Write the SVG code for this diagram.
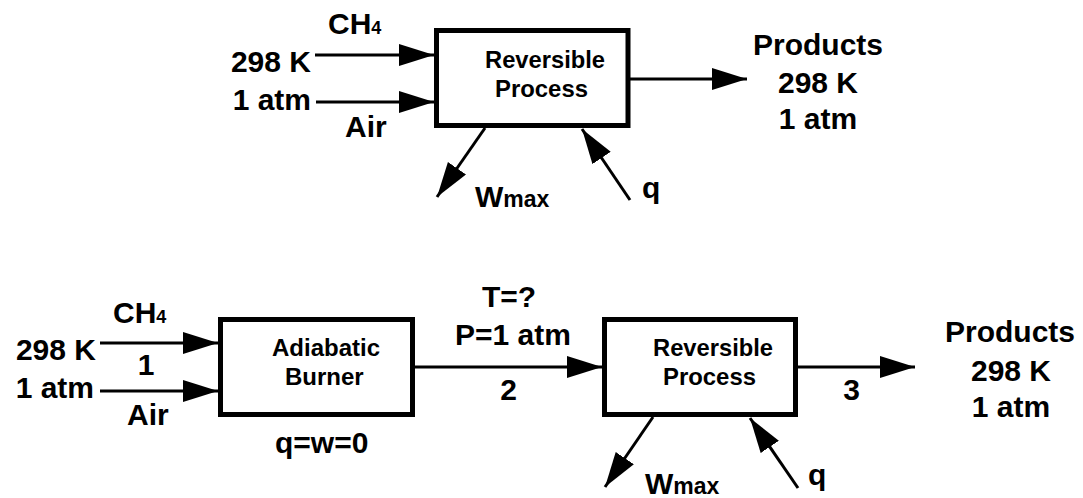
<svg xmlns="http://www.w3.org/2000/svg" width="1083" height="498" viewBox="0 0 1083 498">
<style>
text{font-family:"Liberation Sans",Arial,sans-serif;font-weight:bold;fill:#000}
.big{font-size:30px}
.box{font-size:24px}
.sub{font-size:18px}
.subw{font-size:23px}
.mid{text-anchor:middle}
.end{text-anchor:end}
.node rect{fill:#fff;stroke:#000;stroke-width:5}
.conn line{stroke:#000;stroke-width:3;marker-end:url(#ah)}
</style>
<defs>
<marker id="ah" markerUnits="userSpaceOnUse" markerWidth="36" markerHeight="24" refX="35" refY="11" orient="auto">
<path d="M0,0 L35,11 L0,22 z" fill="#000"/>
</marker>
</defs>
<g id="connectors" class="conn">
<line x1="315" y1="55" x2="434" y2="55"/>
<line x1="316" y1="102" x2="434" y2="102"/>
<line x1="630" y1="79" x2="747" y2="79"/>
<line x1="485" y1="128" x2="437" y2="197"/>
<line x1="630" y1="200" x2="582" y2="129"/>
<line x1="100" y1="343" x2="218" y2="343"/>
<line x1="100" y1="391" x2="218" y2="391"/>
<line x1="415" y1="367" x2="602" y2="367"/>
<line x1="798" y1="367" x2="915" y2="367"/>
<line x1="653" y1="417" x2="605" y2="487"/>
<line x1="798" y1="488" x2="750" y2="418"/>
</g>
<g id="top-reversible" class="node">
<rect x="436.5" y="30.5" width="191.5" height="95"/>
<text class="box" x="485" y="68" textLength="120" lengthAdjust="spacingAndGlyphs">Reversible</text>
<text class="box" x="495" y="97" textLength="93" lengthAdjust="spacingAndGlyphs">Process</text>
</g>
<g id="top-inputs">
<text class="big" x="328" y="34">CH<tspan class="sub">4</tspan></text>
<text class="big end" x="311" y="72">298 K</text>
<text class="big end" x="311" y="110">1 atm</text>
<text class="big" x="345" y="137">Air</text>
</g>
<g id="top-products">
<text class="big mid" x="818" y="55">Products</text>
<text class="big mid" x="818" y="93">298 K</text>
<text class="big mid" x="818" y="129">1 atm</text>
</g>
<g id="top-work">
<text class="big" x="475" y="207">W<tspan class="subw">max</tspan></text>
</g>
<g id="top-heat">
<text class="big" x="642" y="198">q</text>
</g>
<g id="burner" class="node">
<rect x="220.5" y="319.5" width="192" height="95"/>
<text class="box" x="272" y="356">Adiabatic</text>
<text class="box" x="285" y="385">Burner</text>
</g>
<g id="burner-label">
<text class="big" x="275" y="453">q=w=0</text>
</g>
<g id="bottom-inputs">
<text class="big" x="113" y="323">CH<tspan class="sub">4</tspan></text>
<text class="big end" x="96" y="360">298 K</text>
<text class="big mid" x="146" y="375">1</text>
<text class="big end" x="94" y="398">1 atm</text>
<text class="big" x="127" y="425">Air</text>
</g>
<g id="stream2">
<text class="big" x="482" y="307">T=?</text>
<text class="big" x="455" y="345">P=1 atm</text>
<text class="big mid" x="508.5" y="400">2</text>
</g>
<g id="bottom-reversible" class="node">
<rect x="604.5" y="319.5" width="191" height="95"/>
<text class="box" x="653" y="356" textLength="120" lengthAdjust="spacingAndGlyphs">Reversible</text>
<text class="box" x="663" y="385" textLength="93" lengthAdjust="spacingAndGlyphs">Process</text>
</g>
<g id="stream3">
<text class="big mid" x="851.5" y="400">3</text>
</g>
<g id="bottom-products">
<text class="big mid" x="1010" y="342">Products</text>
<text class="big mid" x="1011" y="381">298 K</text>
<text class="big mid" x="1011" y="417">1 atm</text>
</g>
<g id="bottom-work">
<text class="big" x="645" y="494">W<tspan class="subw">max</tspan></text>
</g>
<g id="bottom-heat">
<text class="big" x="808" y="485">q</text>
</g>
</svg>
